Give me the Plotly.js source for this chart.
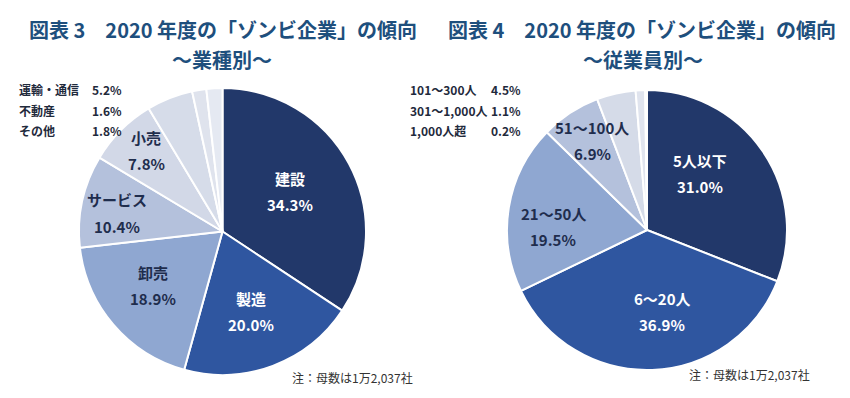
<!DOCTYPE html>
<html><head><meta charset="utf-8">
<script src="https://cdn.plot.ly/plotly-3.0.1.min.js"></script>
<style>html,body{margin:0;padding:0;background:#fff}#c{width:850px;height:398px}</style>
</head><body><div id="c"></div>
<script>
// Left chart: by industry
const industryLabels = ['建設','製造','卸売','サービス','小売','運輸・通信','不動産','その他'];
const industryValues = [34.3, 20.0, 18.9, 10.4, 7.8, 5.2, 1.6, 1.8];
const industryColors = ['#22386a','#2f56a0','#8fa7d1','#b4c1dc','#d2d8e7','#d6dce9','#dfe3ed','#e5e9f2'];
// Right chart: by number of employees
const sizeLabels = ['5人以下','6～20人','21～50人','51～100人','101～300人','301～1,000人','1,000人超'];
const sizeValues = [31.0, 36.9, 19.5, 6.9, 4.5, 1.1, 0.2];
const sizeColors = ['#22386a','#2f56a0','#8fa7d1','#b4c1dc','#d5dbe8','#e0e4ee','#e8ebf3'];

const W = 850, H = 398;
const FONT = '"Noto Sans CJK JP", "Noto Sans", sans-serif';
const px = x => x / W, py = y => 1 - y / H;

function pieTrace(labels, values, colors, cx, cy, r) {
  return {
    type: 'pie', labels: labels, values: values, sort: false, direction: 'clockwise',
    rotation: 0, textinfo: 'none', hoverinfo: 'label+value',
    marker: {colors: colors, line: {color: '#ffffff', width: 2}},
    domain: {x: [px(cx - r), px(cx + r)], y: [py(cy + r), py(cy - r)]},
    showlegend: false
  };
}

const anns = [];
function txt(text, x, y, opts) {
  anns.push(Object.assign({
    text: text, x: px(x), y: py(y), xref: 'paper', yref: 'paper', showarrow: false,
    xanchor: 'center', yanchor: 'middle',
    font: {family: FONT, size: 15, color: '#1f2d4d', weight: 700}
  }, opts || {}));
}
function fmt(v) { return v.toFixed(1) + '%'; }

// in-slice labels (name + percent), positions per slice
const leftPos = [[290, 191, '#ffffff'], [251, 311, '#ffffff'], [153, 285, '#1f2d4d'], [117, 213, '#1f2d4d'], [146, 150, '#1f2d4d']];
leftPos.forEach((p, i) => {
  txt('<b>' + industryLabels[i] + '</b>', p[0], p[1] - 13, {font: {family: FONT, size: 15, color: p[2]}});
  txt('<b>' + fmt(industryValues[i]) + '</b>', p[0], p[1] + 13, {font: {family: FONT, size: 15, color: p[2]}});
});
const rightPos = [[700, 173, '#ffffff'], [662, 311, '#ffffff'], [553, 226, '#1f2d4d'], [592, 140, '#1f2d4d']];
rightPos.forEach((p, i) => {
  txt('<b>' + sizeLabels[i] + '</b>', p[0], p[1] - 13, {font: {family: FONT, size: 15, color: p[2]}});
  txt('<b>' + fmt(sizeValues[i]) + '</b>', p[0], p[1] + 13, {font: {family: FONT, size: 15, color: p[2]}});
});

// small-slice lists (top-left of each pie)
const rows = [90, 111, 131];
for (let k = 0; k < 3; k++) {
  const i = 5 + k;
  txt('<b>' + industryLabels[i] + '</b>', 17, rows[k], {xanchor: 'left', font: {family: FONT, size: 12, color: '#1f2a3c'}});
  txt('<b>' + fmt(industryValues[i]) + '</b>', 90, rows[k], {xanchor: 'left', font: {family: FONT, size: 12, color: '#1f2a3c'}});
}
for (let k = 0; k < 3; k++) {
  const i = 4 + k;
  txt('<b>' + sizeLabels[i] + '</b>', 408, rows[k], {xanchor: 'left', font: {family: FONT, size: 12, color: '#1f2a3c'}});
  txt('<b>' + fmt(sizeValues[i]) + '</b>', 489, rows[k], {xanchor: 'left', font: {family: FONT, size: 12, color: '#1f2a3c'}});
}

// titles
const titleColor = '#1e4f7d';
txt('<b>図表 3　2020 年度の「ゾンビ企業」の傾向</b>', 223, 29, {font: {family: FONT, size: 20, color: titleColor}});
txt('<b>～業種別～</b>', 222, 59, {font: {family: FONT, size: 20, color: titleColor}});
txt('<b>図表 4　2020 年度の「ゾンビ企業」の傾向</b>', 642, 29, {font: {family: FONT, size: 20, color: titleColor}});
txt('<b>～従業員別～</b>', 643, 59, {font: {family: FONT, size: 20, color: titleColor}});

// notes
txt('注：母数は1万2,037社', 290, 377, {xanchor: 'left', font: {family: FONT, size: 12, color: '#333333'}});
txt('注：母数は1万2,037社', 687, 374, {xanchor: 'left', font: {family: FONT, size: 12, color: '#333333'}});

const data = [
  pieTrace(industryLabels, industryValues, industryColors, 222.5, 231.5, 143.5),
  pieTrace(sizeLabels, sizeValues, sizeColors, 647, 230, 140)
];
const layout = {
  width: W, height: H, margin: {l: 0, r: 0, t: 0, b: 0},
  paper_bgcolor: '#ffffff', plot_bgcolor: '#ffffff',
  font: {family: FONT}, annotations: anns, showlegend: false
};
Plotly.newPlot('c', data, layout, {displayModeBar: false, staticPlot: true});
</script></body></html>
